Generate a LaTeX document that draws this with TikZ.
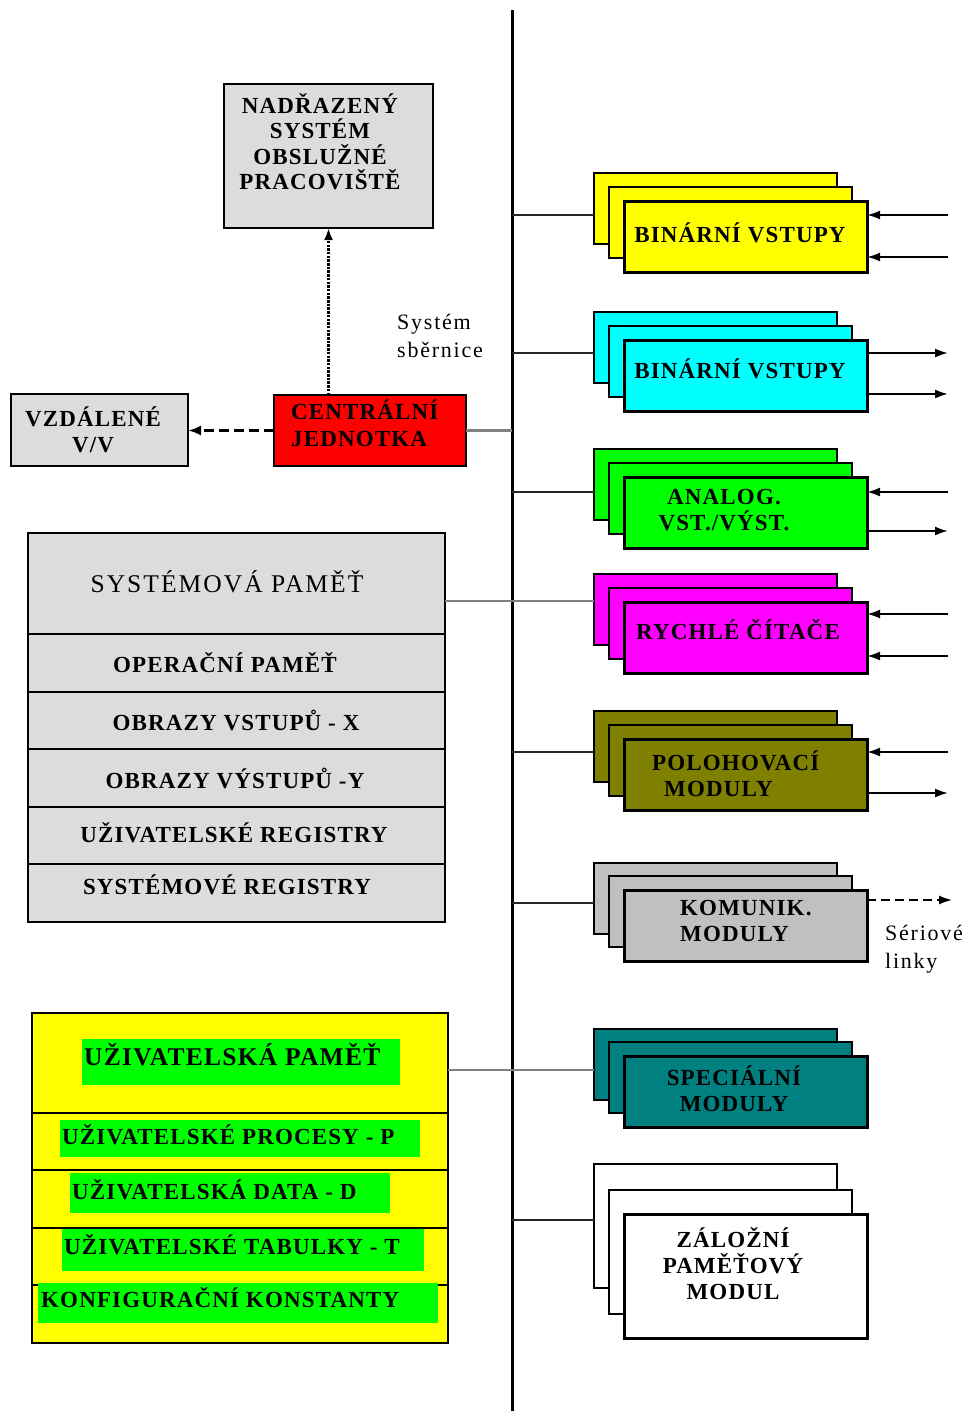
\documentclass[tikz,border=0pt]{standalone}
\usepackage{fontspec}
\setmainfont{Liberation Serif}
\newfontfamily\lblfont[LetterSpace=5]{Liberation Serif}
\newfontfamily\wideserif[LetterSpace=8]{Liberation Serif}
\usetikzlibrary{arrows.meta}
\definecolor{boxgray}{RGB}{220,220,220}
\definecolor{modgray}{RGB}{192,192,192}
\definecolor{olivec}{RGB}{128,128,0}
\definecolor{tealc}{RGB}{0,128,128}
\definecolor{hlgreen}{RGB}{0,255,0}
\definecolor{yel}{RGB}{255,255,0}
\definecolor{cyanc}{RGB}{0,255,255}
\definecolor{magc}{RGB}{255,0,255}
\definecolor{redc}{RGB}{255,0,0}
\newcommand\modstack[6]{%
  \node[backbox,fill=#2,minimum height=#4pt] (#1b) at (594,#3) {};
  \node[backbox,fill=#2,minimum height=#4pt] (#1m) at (609,{#3+#5}) {};
  \node[frontbox,fill=#2,minimum height=#4pt] (#1) at (624,{#3+#6}) {};
}
\begin{document}
\begin{tikzpicture}[x=1pt,y=-1pt,
  frame/.style={draw=black, line width=2.8pt, inner sep=0pt, outer sep=0pt, anchor=north west},
  backbox/.style={draw=black, line width=2pt, inner sep=0pt, outer sep=0pt, anchor=north west, minimum width=243pt},
  frontbox/.style={backbox, line width=3pt},
  memrow/.style={frame, line width=2.6pt, minimum width=417pt},
  lbl/.style={font=\lblfont\bfseries\fontsize{23}{26}\selectfont, align=center, inner sep=0pt},
  plain/.style={font=\wideserif\fontsize{22}{28}\selectfont, align=left, inner sep=0pt},
  busline/.style={draw=black!85, line width=1.5pt},
  memline/.style={draw=black!50, line width=2.2pt},
  io/.style={draw=black, line width=2pt, -{Latex[length=13pt,width=9pt]}},
  hl/.style={fill=hlgreen, inner sep=0pt, outer sep=0pt, anchor=north west}
]
\useasboundingbox (0,0) rectangle (975,1411);
\fill[white] (0,0) rectangle (975,1411);

% bus
\coordinate (bustop) at (512,10);
\coordinate (busbot) at (512,1411);
\draw[line width=3pt] (bustop) -- (busbot);

% top-left blocks
\node[frame, fill=boxgray, minimum width=209pt, minimum height=144pt] (up) at (224,84) {};
\node[lbl, font=\lblfont\bfseries\fontsize{23}{25.5}\selectfont] (upt) at (320,141.5) {NADŘAZENÝ\\SYSTÉM\\OBSLUŽNÉ\\PRACOVIŠTĚ};

\node[frame, fill=redc, minimum width=192pt, minimum height=71pt] (cu) at (274,395) {};
\node[lbl, align=left, anchor=west, font=\lblfont\bfseries\fontsize{23}{27}\selectfont] (cut) at (291,423.5) {CENTRÁLNÍ\\JEDNOTKA};

\node[frame, fill=boxgray, minimum width=177pt, minimum height=72pt] (vv) at (11,394) {};
\node[lbl, font=\lblfont\bfseries\fontsize{23}{26}\selectfont] (vvt) at (93,430) {VZDÁLENÉ\\V/V};

\node[plain, anchor=west] (sys) at (397,336) {Systém\\sběrnice};

\draw[line width=3.2pt, dash pattern=on 2.5pt off 1.2pt, -{Latex[length=12pt,width=9pt]}] (up.south |- cu.north) -- (up.south);
\draw[line width=3pt, dash pattern=on 10pt off 5pt, -{Latex[length=13pt,width=10pt]}] (cu.west) -- (cu.west -| vv.east);
\draw[memline] (cu.east) -- (cu.east -| bustop);

% system memory
\node[memrow, fill=boxgray, minimum height=101pt] (sm) at (28,533) {};
\node[memrow, fill=boxgray, minimum height=58pt] (op) at (28,634) {};
\node[memrow, fill=boxgray, minimum height=57pt] (ox) at (28,692) {};
\node[memrow, fill=boxgray, minimum height=58pt] (oy) at (28,749) {};
\node[memrow, fill=boxgray, minimum height=57pt] (ur) at (28,807) {};
\node[memrow, fill=boxgray, minimum height=58pt] (sr) at (28,864) {};
\node[plain, font=\wideserif\fontsize{25.5}{28}\selectfont] (smt) at (227,582) {SYSTÉMOVÁ PAMĚŤ};
\node[lbl] (opt) at (225,663) {OPERAČNÍ PAMĚŤ};
\node[lbl] (oxt) at (236,720) {OBRAZY VSTUPŮ - X};
\node[lbl] (oyt) at (235,778) {OBRAZY VÝSTUPŮ -Y};
\node[lbl] (urt) at (234,833) {UŽIVATELSKÉ REGISTRY};
\node[lbl] (srt) at (227,885) {SYSTÉMOVÉ REGISTRY};

% user memory
\node[memrow, fill=yel, minimum width=416pt, minimum height=100pt] (um) at (32,1013) {};
\node[memrow, fill=yel, minimum width=416pt, minimum height=57pt] (up1) at (32,1113) {};
\node[memrow, fill=yel, minimum width=416pt, minimum height=58pt] (ud) at (32,1170) {};
\node[memrow, fill=yel, minimum width=416pt, minimum height=57pt] (ut) at (32,1228) {};
\node[memrow, fill=yel, minimum width=416pt, minimum height=58pt] (uk) at (32,1285) {};
\node[hl, minimum width=318pt, minimum height=46pt] (h1) at (82,1039) {};
\node[hl, minimum width=360pt, minimum height=37pt] (h2) at (60,1120) {};
\node[hl, minimum width=320pt, minimum height=40pt] (h3) at (70,1173) {};
\node[hl, minimum width=362pt, minimum height=42pt] (h4) at (62,1229) {};
\node[hl, minimum width=400pt, minimum height=40pt] (h5) at (38,1283) {};
\node[lbl, anchor=west, font=\lblfont\bfseries\fontsize{25.5}{28}\selectfont] (umt) at (84,1055) {UŽIVATELSKÁ PAMĚŤ};
\node[lbl, anchor=west] (upt1) at (62,1135) {UŽIVATELSKÉ PROCESY - P};
\node[lbl, anchor=west] (udt) at (72,1190) {UŽIVATELSKÁ DATA - D};
\node[lbl, anchor=west] (utt) at (64,1245) {UŽIVATELSKÉ TABULKY - T};
\node[lbl, anchor=west] (ukt) at (41,1298) {KONFIGURAČNÍ KONSTANTY};

% module stacks
\modstack{yel}{yel}{173}{71}{14}{28}
\modstack{cya}{cyanc}{312}{71}{14}{28}
\modstack{gre}{hlgreen}{449}{71}{14}{28}
\modstack{mag}{magc}{574}{71}{14}{28}
\modstack{oli}{olivec}{711}{71}{14}{28}
\modstack{gry}{modgray}{863}{71}{13}{27}
\modstack{tea}{tealc}{1029}{71}{13}{27}
\modstack{wht}{white}{1164}{124}{26}{50}

\node[lbl] (yelt) at (740,233) {BINÁRNÍ VSTUPY};
\node[lbl] (cyat) at (740,369) {BINÁRNÍ VSTUPY};
\node[lbl] (gret) at (724,510) {ANALOG.\\VST./VÝST.};
\node[lbl] (magt) at (738,630) {RYCHLÉ ČÍTAČE};
\node[lbl, anchor=west, align=left] (olit) at (652,774) {POLOHOVACÍ\\\hspace*{12pt}MODULY};
\node[lbl, anchor=west, align=left] (gryt) at (680,921) {KOMUNIK.\\MODULY};
\node[lbl] (teat) at (734,1089) {SPECIÁLNÍ\\MODULY};
\node[lbl] (whtt) at (733,1264) {ZÁLOŽNÍ\\PAMĚŤOVÝ\\MODUL};

% bus connections
\coordinate (cyel) at (512,215);
\coordinate (ccya) at (512,353);
\coordinate (cgre) at (512,492);
\coordinate (coli) at (512,752);
\coordinate (cgry) at (512,903);
\coordinate (cwht) at (512,1220);
\draw[busline] (cyel) -- (cyel -| yelb.west);
\draw[busline] (ccya) -- (ccya -| cyab.west);
\draw[busline] (cgre) -- (cgre -| greb.west);
\draw[busline] (coli) -- (coli -| olib.west);
\draw[busline] (cgry) -- (cgry -| gryb.west);
\draw[busline] (cwht) -- (cwht -| whtb.west);
\coordinate (csm) at (445,601);
\coordinate (cum) at (448,1070);
\draw[memline] (csm) -- (csm -| magb.west);
\draw[memline] (cum) -- (cum -| teab.west);

% io lines
\coordinate (yel1) at (948,215);
\coordinate (yel2) at (948,257);
\coordinate (cya1) at (948,353);
\coordinate (cya2) at (948,394);
\coordinate (gre1) at (948,492);
\coordinate (gre2) at (948,531);
\coordinate (mag1) at (948,614);
\coordinate (mag2) at (948,656);
\coordinate (oli1) at (948,752);
\coordinate (oli2) at (948,793);
\coordinate (gry1) at (952,900);
\draw[io] (yel1) -- (yel1 -| yel.east);
\draw[io] (yel2) -- (yel2 -| yel.east);
\draw[io] (cya1 -| cya.east) -- (cya1);
\draw[io] (cya2 -| cya.east) -- (cya2);
\draw[io] (gre1) -- (gre1 -| gre.east);
\draw[io] (gre2 -| gre.east) -- (gre2);
\draw[io] (mag1) -- (mag1 -| mag.east);
\draw[io] (mag2) -- (mag2 -| mag.east);
\draw[io] (oli1) -- (oli1 -| oli.east);
\draw[io] (oli2 -| oli.east) -- (oli2);
\draw[io, line width=1.6pt, dash pattern=on 9pt off 5pt] (gry1 -| gry.east) -- (gry1);
\node[plain, anchor=west] (ser) at (885,949) {Sériové\\linky};
\end{tikzpicture}
\end{document}
